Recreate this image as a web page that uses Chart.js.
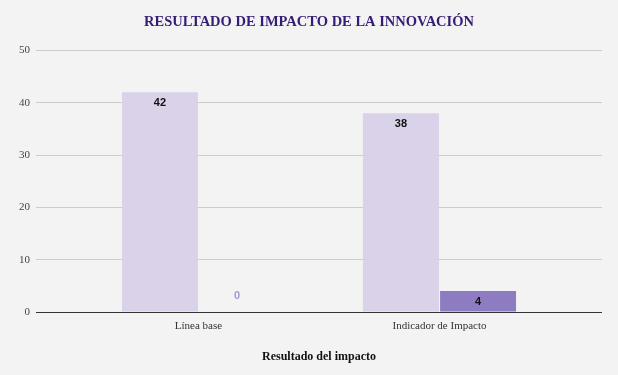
<!DOCTYPE html>
<html>
<head>
<meta charset="utf-8">
<script src="https://cdn.jsdelivr.net/npm/chart.js@4.4.1/dist/chart.umd.min.js"></script>
<style>
html,body{margin:0;padding:0;background:#f3f3f3;}
canvas{display:block;}
</style>
</head>
<body>
<canvas id="c" width="618" height="375"></canvas>
<script>
const categories = ['Línea base', 'Indicador de Impacto'];
const seriesA = [42, 38];
const seriesB = [0, 4];
const yTicks = [0, 10, 20, 30, 40, 50];
const chartTitle = 'RESULTADO DE IMPACTO DE LA INNOVACIÓN';
const xTitle = 'Resultado del impacto';

const gridColor = ctx => (ctx.tick && ctx.tick.value === 0) ? '#333333' : '#cccccc';

const bgPlugin = {
  id: 'bg',
  beforeDraw(chart) {
    const c = chart.ctx;
    c.save();
    c.fillStyle = '#f3f3f3';
    c.fillRect(0, 0, chart.width, chart.height);
    c.restore();
  }
};

const labelPlugin = {
  id: 'vals',
  afterDatasetsDraw(chart) {
    const c = chart.ctx;
    c.save();
    c.textAlign = 'center';
    c.textBaseline = 'middle';
    chart.data.datasets.forEach((ds, di) => {
      const meta = chart.getDatasetMeta(di);
      meta.data.forEach((el, i) => {
        const v = ds.data[i];
        if (v === 0) {
          c.font = 'bold 11px "Liberation Sans", Arial, sans-serif';
          c.fillStyle = '#a497d6';
          c.fillText(String(v), el.x, el.y - 16);
        } else {
          c.font = 'bold 11px "Liberation Sans", Arial, sans-serif';
          c.fillStyle = '#111111';
          c.fillText(String(v), el.x, el.y + 11);
        }
      });
    });
    c.restore();
  }
};

new Chart(document.getElementById('c'), {
  type: 'bar',
  data: {
    labels: categories,
    datasets: [
      { label: 'Línea base', data: seriesA, backgroundColor: '#d9d2e9', borderWidth: 0,
        categoryPercentage: 0.64, barPercentage: 0.985 },
      { label: 'Impacto', data: seriesB, backgroundColor: '#8e7cc3', borderWidth: 0,
        categoryPercentage: 0.64, barPercentage: 0.985 }
    ]
  },
  options: {
    responsive: false,
    animation: false,
    layout: { padding: { left: 0, right: 0, top: 0, bottom: 0 } },
    plugins: {
      legend: { display: false },
      tooltip: { enabled: false },
      title: {
        display: true,
        text: chartTitle,
        color: '#351c75',
        font: { family: '"Liberation Serif", "Times New Roman", serif', size: 14.5, weight: 'bold' },
        padding: { top: 14, bottom: 19 }
      }
    },
    scales: {
      x: {
        type: 'category',
        offset: true,
        grid: { display: false, drawTicks: false },
        border: { display: false },
        ticks: {
          color: '#333333',
          padding: 8,
          font: { family: '"Liberation Serif", "Times New Roman", serif', size: 11 }
        },
        title: {
          display: true,
          text: xTitle,
          color: '#111111',
          font: { family: '"Liberation Serif", "Times New Roman", serif', size: 12, weight: 'bold' },
          padding: { top: 0, bottom: 11 }
        },
        afterFit(s) { s.height = 63; }
      },
      y: {
        min: 0, max: 50,
        afterBuildTicks(s) { s.ticks = yTicks.map(v => ({ value: v })); },
        grid: { color: gridColor, tickColor: gridColor, tickLength: 42, lineWidth: 1 },
        border: { display: false },
        ticks: {
          color: '#444444',
          padding: 6,
          font: { family: '"Liberation Serif", "Times New Roman", serif', size: 11 }
        },
        afterFit(s) { s.width = 78; }
      },
      y2: {
        position: 'right',
        min: 0, max: 50,
        afterBuildTicks(s) { s.ticks = yTicks.map(v => ({ value: v })); },
        grid: { drawOnChartArea: false, color: gridColor, tickColor: gridColor, tickLength: 42 },
        border: { display: false },
        ticks: { display: false },
        afterFit(s) { s.width = 58; }
      }
    }
  },
  plugins: [bgPlugin, labelPlugin]
});
</script>
</body>
</html>
